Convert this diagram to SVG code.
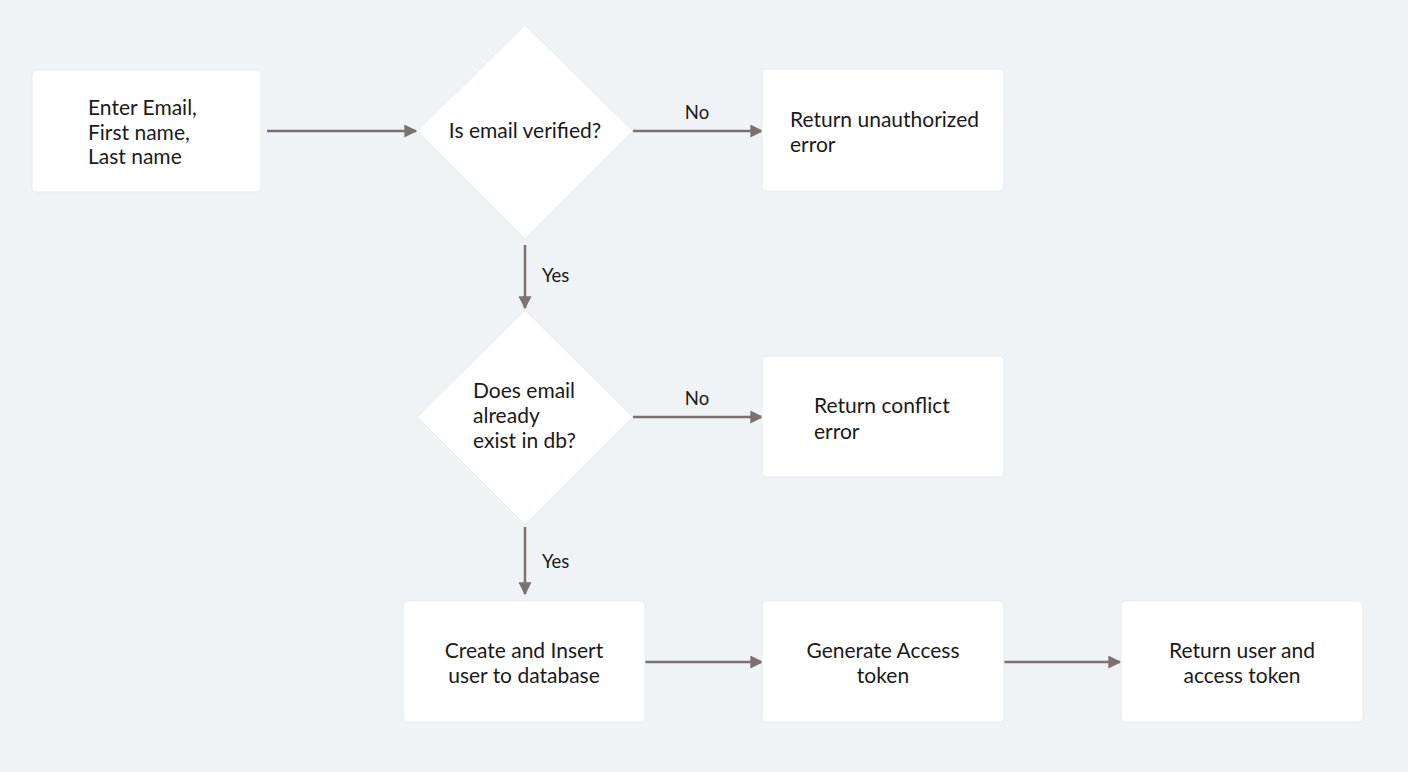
<svg xmlns="http://www.w3.org/2000/svg" width="1408" height="772" viewBox="0 0 1408 772">
<style>
.bg{fill:#eff3f6}
.node{fill:#ffffff;stroke:#e6eaee;stroke-width:1}
.t{font-family:Lato,"Liberation Sans",sans-serif;font-size:21px;fill:#1a1a1a}
.lbl{font-family:Lato,"Liberation Sans",sans-serif;font-size:18.5px;fill:#1a1a1a}
.c{text-anchor:middle}
.edge{stroke:#7b7171;stroke-width:2.5;fill:none;marker-end:url(#ah)}
</style>
<defs>
<marker id="ah" viewBox="0 0 10 10" refX="9" refY="5" markerWidth="5.2" markerHeight="5.2" markerUnits="strokeWidth" orient="auto">
<path d="M0,0 L10,5 L0,10 z" fill="#7b7171"/>
</marker>
</defs>
<rect class="bg" x="0" y="0" width="1408" height="772"/>
<g id="connectors">
<line class="edge" x1="267" y1="131" x2="416" y2="131"/>
<line class="edge" x1="633" y1="131" x2="762" y2="131"/>
<text class="lbl c" x="697" y="119">No</text>
<line class="edge" x1="525" y1="245" x2="525" y2="308"/>
<text class="lbl" x="542" y="282">Yes</text>
<line class="edge" x1="633" y1="417" x2="762" y2="417"/>
<text class="lbl c" x="697" y="405">No</text>
<line class="edge" x1="525" y1="527" x2="525" y2="594"/>
<text class="lbl" x="542" y="568">Yes</text>
<line class="edge" x1="645" y1="662" x2="762" y2="662"/>
<line class="edge" x1="1004" y1="662" x2="1120" y2="662"/>
</g>
<g id="n1">
<rect class="node" x="32" y="70" width="229" height="122" rx="4"/>
<text class="t" x="88" y="115">Enter Email,</text>
<text class="t" x="88" y="140">First name,</text>
<text class="t" x="88" y="164">Last name</text>
</g>
<g id="d1">
<path class="node" d="M525,25 L633,131 L525,239 L417,131 Z" stroke-linejoin="round"/>
<text class="t c" x="525" y="138">Is email verified?</text>
</g>
<g id="n2">
<rect class="node" x="762" y="69" width="242" height="122" rx="4"/>
<text class="t" x="790" y="127">Return unauthorized</text>
<text class="t" x="790" y="152">error</text>
</g>
<g id="d2">
<path class="node" d="M525,310 L633,417 L525,525 L417,417 Z" stroke-linejoin="round"/>
<text class="t" x="473" y="398">Does email</text>
<text class="t" x="473" y="423">already</text>
<text class="t" x="473" y="448">exist in db?</text>
</g>
<g id="n3">
<rect class="node" x="762" y="356" width="242" height="121" rx="4"/>
<text class="t" x="814" y="413">Return conflict</text>
<text class="t" x="814" y="439">error</text>
</g>
<g id="n4">
<rect class="node" x="403" y="601" width="242" height="121" rx="4"/>
<text class="t c" x="524" y="658">Create and Insert</text>
<text class="t c" x="524" y="683">user to database</text>
</g>
<g id="n5">
<rect class="node" x="762" y="601" width="242" height="121" rx="4"/>
<text class="t c" x="883" y="658">Generate Access</text>
<text class="t c" x="883" y="683">token</text>
</g>
<g id="n6">
<rect class="node" x="1121" y="601" width="242" height="121" rx="4"/>
<text class="t c" x="1242" y="658">Return user and</text>
<text class="t c" x="1242" y="683">access token</text>
</g>
</svg>
